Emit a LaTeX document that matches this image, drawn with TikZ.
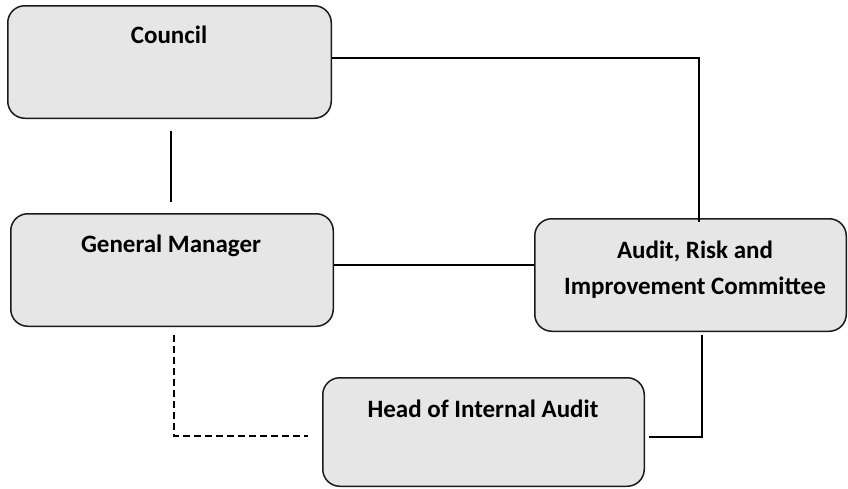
\documentclass[tikz,border=0pt]{standalone}
\usepackage{fontspec}
\setmainfont{Carlito}
\usetikzlibrary{calc}

\definecolor{boxfill}{HTML}{E6E6E6}
\definecolor{boxline}{HTML}{1A1A1A}

\tikzset{
  orgbox/.style={draw=boxline, fill=boxfill, line width=1.5pt,
    rounded corners=17pt, inner sep=0pt},
  orglabel/.style={anchor=base, inner sep=0pt, align=center,
    font=\fontsize{25}{36}\selectfont\bfseries},
  link/.style={draw=black, line width=1.4pt},
  dottedlink/.style={link, dash pattern=on 7pt off 4pt}
}

\begin{document}
\begin{tikzpicture}[x=1pt, y=-1pt]
  \useasboundingbox (0,0) rectangle (848,488);

  % boxes
  \node[orgbox, minimum width=323.5pt, minimum height=112.5pt] (council) at (169.5,62) {};
  \node[orgbox, minimum width=322.5pt, minimum height=112.5pt] (gm) at (172,270) {};
  \node[orgbox, minimum width=311.5pt, minimum height=112.5pt] (aric) at (690.5,275) {};
  \node[orgbox, minimum width=321.5pt, minimum height=108.5pt] (head) at (483.5,432) {};

  % titles (base anchor of the two-line title sits on its last line)
  \node[orglabel] (council-title) at (169,43) {Council};
  \node[orglabel] (gm-title) at (171,252) {General Manager};
  \node[orglabel] (aric-title) at (695,294) {Audit, Risk and\\Improvement Committee};
  \node[orglabel] (head-title) at (483,417) {Head of Internal Audit};

  % reporting lines
  \draw[link] ($(council.east)+(0,-4)$) -| ($(aric.north)+(8.5,4)$);
  \draw[link] ($(council.south)+(1.5,12)$) -- ($(gm.north)+(-1,-11)$);
  \draw[link] ($(gm.east)+(0,-5)$) -- ($(aric.west)+(0,-10)$);
  \draw[link] ($(aric.south)+(11.5,3)$) |- ($(head.east)+(4,5)$);
  \draw[dottedlink] ($(gm.south)+(2,8)$) |- ($(head.west)+(-14,4)$);
\end{tikzpicture}
\end{document}
